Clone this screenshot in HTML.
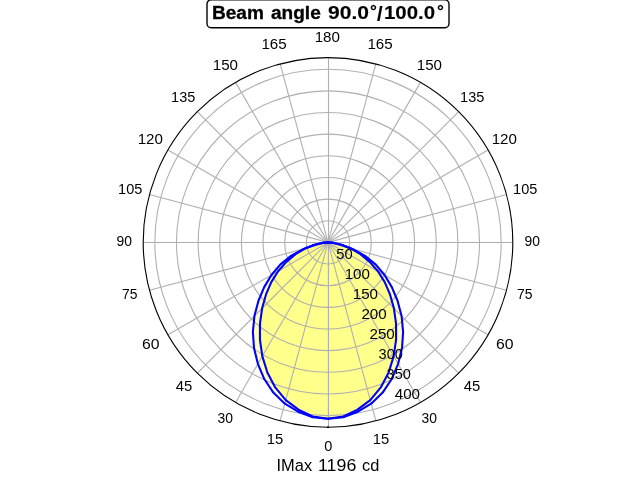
<!DOCTYPE html>
<html><head><meta charset="utf-8"><title>Beam angle</title>
<style>
html,body{margin:0;padding:0;background:#fff;}
body{width:640px;height:480px;overflow:hidden;}
svg{display:block;}
text{font-family:"Liberation Sans",sans-serif;fill:#000;}
.b{font-weight:bold;}
.w{stroke:#000;stroke-width:0.3px;}
.v{stroke:#000;stroke-width:0.13px;}
</style></head>
<body>
<svg width="640" height="480" viewBox="0 0 640 480">
<rect width="640" height="480" fill="#fff"/>
<g fill="#ffff00" fill-opacity="0.260" stroke="none">
<path d="M328.00 418.70 L343.29 417.17 L357.84 411.66 L371.21 403.66 L382.67 392.59 L391.72 379.04 L398.12 363.85 L402.01 348.10 L403.12 331.92 L401.58 315.98 L397.54 300.76 L391.82 287.09 L384.54 275.04 L375.77 264.68 L365.01 255.87 L352.47 248.96 L341.64 244.81 L333.61 242.89 L328.00 242.40 L322.39 242.89 L314.36 244.81 L303.53 248.96 L290.99 255.87 L280.23 264.68 L271.46 275.04 L264.18 287.09 L258.46 300.76 L254.42 315.98 L252.88 331.92 L253.99 348.10 L257.88 363.85 L264.28 379.04 L273.33 392.59 L284.79 403.66 L298.16 411.66 L312.71 417.17 L328.00 418.70 Z"/>
<path d="M328.00 418.70 L343.23 416.48 L357.50 409.69 L370.24 400.06 L380.77 387.40 L388.65 372.47 L393.69 356.18 L396.09 339.64 L396.03 323.48 L393.89 308.29 L390.00 294.42 L384.72 282.12 L377.91 271.22 L369.70 261.85 L360.42 254.20 L351.00 248.56 L341.00 244.69 L333.18 242.85 L328.00 242.40 L322.82 242.85 L315.00 244.69 L305.00 248.56 L295.58 254.20 L286.30 261.85 L278.09 271.22 L271.28 282.12 L266.00 294.42 L262.11 308.29 L259.97 323.48 L259.91 339.64 L262.31 356.18 L267.35 372.47 L275.23 387.40 L285.76 400.06 L298.50 409.69 L312.77 416.48 L328.00 418.70 Z"/>
</g>
<rect x="327" y="243" width="1" height="175.2" fill="#ffff40"/>
<g fill="none" stroke="#b0b0b0" stroke-width="1.111">
<circle cx="328.0" cy="242.4" r="21.648"/>
<circle cx="328.0" cy="242.4" r="43.296"/>
<circle cx="328.0" cy="242.4" r="64.945"/>
<circle cx="328.0" cy="242.4" r="86.593"/>
<circle cx="328.0" cy="242.4" r="108.241"/>
<circle cx="328.0" cy="242.4" r="129.889"/>
<circle cx="328.0" cy="242.4" r="151.538"/>
<circle cx="328.0" cy="242.4" r="173.186"/>
<line x1="328.5" y1="242.40" x2="328.5" y2="427.20"/>
<line x1="328.00" y1="242.40" x2="375.83" y2="420.90"/>
<line x1="328.00" y1="242.40" x2="420.40" y2="402.44"/>
<line x1="328.00" y1="242.40" x2="458.67" y2="373.07"/>
<line x1="328.00" y1="242.40" x2="488.04" y2="334.80"/>
<line x1="328.00" y1="242.40" x2="506.50" y2="290.23"/>
<line x1="328.00" y1="242.5" x2="512.80" y2="242.5"/>
<line x1="328.00" y1="242.40" x2="506.50" y2="194.57"/>
<line x1="328.00" y1="242.40" x2="488.04" y2="150.00"/>
<line x1="328.00" y1="242.40" x2="458.67" y2="111.73"/>
<line x1="328.00" y1="242.40" x2="420.40" y2="82.36"/>
<line x1="328.00" y1="242.40" x2="375.83" y2="63.90"/>
<line x1="328.5" y1="242.40" x2="328.5" y2="57.60"/>
<line x1="328.00" y1="242.40" x2="280.17" y2="63.90"/>
<line x1="328.00" y1="242.40" x2="235.60" y2="82.36"/>
<line x1="328.00" y1="242.40" x2="197.33" y2="111.73"/>
<line x1="328.00" y1="242.40" x2="167.96" y2="150.00"/>
<line x1="328.00" y1="242.40" x2="149.50" y2="194.57"/>
<line x1="328.00" y1="242.5" x2="143.20" y2="242.5"/>
<line x1="328.00" y1="242.40" x2="149.50" y2="290.23"/>
<line x1="328.00" y1="242.40" x2="167.96" y2="334.80"/>
<line x1="328.00" y1="242.40" x2="197.33" y2="373.07"/>
<line x1="328.00" y1="242.40" x2="235.60" y2="402.44"/>
<line x1="328.00" y1="242.40" x2="280.17" y2="420.90"/>
</g>
<g fill="none" stroke="#0000ff" stroke-width="2.083" stroke-linejoin="round" stroke-linecap="square">
<path d="M328.00 418.70 L343.23 416.48 L357.50 409.69 L370.24 400.06 L380.77 387.40 L388.65 372.47 L393.69 356.18 L396.09 339.64 L396.03 323.48 L393.89 308.29 L390.00 294.42 L384.72 282.12 L377.91 271.22 L369.70 261.85 L360.42 254.20 L351.00 248.56 L341.00 244.69 L333.18 242.85 L328.00 242.40 L322.82 242.85 L315.00 244.69 L305.00 248.56 L295.58 254.20 L286.30 261.85 L278.09 271.22 L271.28 282.12 L266.00 294.42 L262.11 308.29 L259.97 323.48 L259.91 339.64 L262.31 356.18 L267.35 372.47 L275.23 387.40 L285.76 400.06 L298.50 409.69 L312.77 416.48 L328.00 418.70 Z"/>
<path d="M328.00 418.70 L343.29 417.17 L357.84 411.66 L371.21 403.66 L382.67 392.59 L391.72 379.04 L398.12 363.85 L402.01 348.10 L403.12 331.92 L401.58 315.98 L397.54 300.76 L391.82 287.09 L384.54 275.04 L375.77 264.68 L365.01 255.87 L352.47 248.96 L341.64 244.81 L333.61 242.89 L328.00 242.40 L322.39 242.89 L314.36 244.81 L303.53 248.96 L290.99 255.87 L280.23 264.68 L271.46 275.04 L264.18 287.09 L258.46 300.76 L254.42 315.98 L252.88 331.92 L253.99 348.10 L257.88 363.85 L264.28 379.04 L273.33 392.59 L284.79 403.66 L298.16 411.66 L312.71 417.17 L328.00 418.70 Z"/>
</g>
<circle cx="328.0" cy="242.4" r="184.80" fill="none" stroke="#000" stroke-width="1.111"/>
<rect x="327" y="426.45" width="2" height="1.55" fill="#000"/>
<rect x="207.00" y="-0.20" width="242.00" height="28.00" rx="4.2" ry="4.2" fill="#fff" stroke="#000" stroke-width="1.389"/>
<g opacity="0.999">
<text class="b w" transform="matrix(1.1429 0 0 1.0833 212.000 19.000)" font-size="16.67">Beam</text>
<text class="b w" transform="matrix(1.1438 0 0 1.0833 271.000 19.000)" font-size="16.67">angle</text>
<text class="b v" transform="matrix(1.2632 0 0 1.0833 328.000 19.000)" font-size="16.67">90.0</text>
<text class="b v" transform="matrix(1.0286 0 0 1.1143 370.000 17.000)" font-size="16.67">°</text>
<text class="b v" transform="matrix(1.2000 0 0 1.2500 377.000 21.000)" font-size="16.67">/</text>
<text class="b v" transform="matrix(1.2245 0 0 1.0833 384.000 19.000)" font-size="16.67">100.0</text>
<text class="b v" transform="matrix(1.0286 0 0 1.1143 437.000 17.000)" font-size="16.67">°</text>
<text transform="matrix(1.0604 0 0 1.1077 276.500 471.000)" font-size="15.50">IMax</text>
<text transform="matrix(1.1511 0 0 1.1077 318.000 471.000)" font-size="15.50">1196</text>
<text transform="matrix(1.0578 0 0 1.1077 362.000 471.000)" font-size="15.50">cd</text>
<text transform="matrix(1.0300 0 0 1.0000 324.332 450.985)" font-size="14.10">0</text>
<text transform="matrix(1.0500 0 0 1.0000 372.667 443.899)" font-size="14.10">15</text>
<text transform="matrix(0.9882 0 0 1.0000 421.563 422.940)" font-size="14.10">30</text>
<text transform="matrix(1.0541 0 0 1.0000 463.704 390.745)" font-size="14.10">45</text>
<text transform="matrix(1.1200 0 0 1.0000 495.888 349.049)" font-size="14.10">60</text>
<text transform="matrix(0.9882 0 0 1.0000 517.056 298.942)" font-size="14.10">75</text>
<text transform="matrix(0.9882 0 0 1.0000 524.621 245.843)" font-size="14.10">90</text>
<text transform="matrix(1.0304 0 0 1.0000 513.078 193.935)" font-size="14.10">105</text>
<text transform="matrix(1.0752 0 0 1.0000 491.651 144.021)" font-size="14.10">120</text>
<text transform="matrix(1.0304 0 0 1.0000 460.101 101.890)" font-size="14.10">135</text>
<text transform="matrix(1.0752 0 0 1.0000 416.735 69.942)" font-size="14.10">150</text>
<text transform="matrix(1.0752 0 0 1.0000 367.438 48.982)" font-size="14.10">165</text>
<text transform="matrix(1.0752 0 0 1.0000 314.701 41.956)" font-size="14.10">180</text>
<text transform="matrix(1.0752 0 0 1.0000 261.438 48.982)" font-size="14.10">165</text>
<text transform="matrix(1.0752 0 0 1.0000 212.735 69.942)" font-size="14.10">150</text>
<text transform="matrix(1.0304 0 0 1.0000 171.101 101.890)" font-size="14.10">135</text>
<text transform="matrix(1.0752 0 0 1.0000 137.651 144.021)" font-size="14.10">120</text>
<text transform="matrix(1.0304 0 0 1.0000 118.078 193.935)" font-size="14.10">105</text>
<text transform="matrix(0.9882 0 0 1.0000 116.621 245.843)" font-size="14.10">90</text>
<text transform="matrix(0.9882 0 0 1.0000 122.056 298.942)" font-size="14.10">75</text>
<text transform="matrix(1.1200 0 0 1.0000 141.888 349.049)" font-size="14.10">60</text>
<text transform="matrix(1.0541 0 0 1.0000 175.704 390.745)" font-size="14.10">45</text>
<text transform="matrix(0.9882 0 0 1.0000 217.563 422.940)" font-size="14.10">30</text>
<text transform="matrix(1.0500 0 0 1.0000 266.667 443.899)" font-size="14.10">15</text>
<text transform="matrix(1.0500 0 0 1.0000 336.187 258.963)" font-size="14.10">50</text>
<text transform="matrix(1.0752 0 0 1.0000 344.659 278.943)" font-size="14.10">100</text>
<text transform="matrix(1.0752 0 0 1.0000 352.735 298.942)" font-size="14.10">150</text>
<text transform="matrix(1.0769 0 0 1.0000 361.419 319.071)" font-size="14.10">200</text>
<text transform="matrix(1.0769 0 0 1.0000 369.460 339.061)" font-size="14.10">250</text>
<text transform="matrix(1.0338 0 0 1.0000 378.541 358.947)" font-size="14.10">300</text>
<text transform="matrix(1.0338 0 0 1.0000 386.527 378.931)" font-size="14.10">350</text>
<text transform="matrix(1.0769 0 0 1.0000 394.720 398.858)" font-size="14.10">400</text>
</g>
</svg>
</body></html>
